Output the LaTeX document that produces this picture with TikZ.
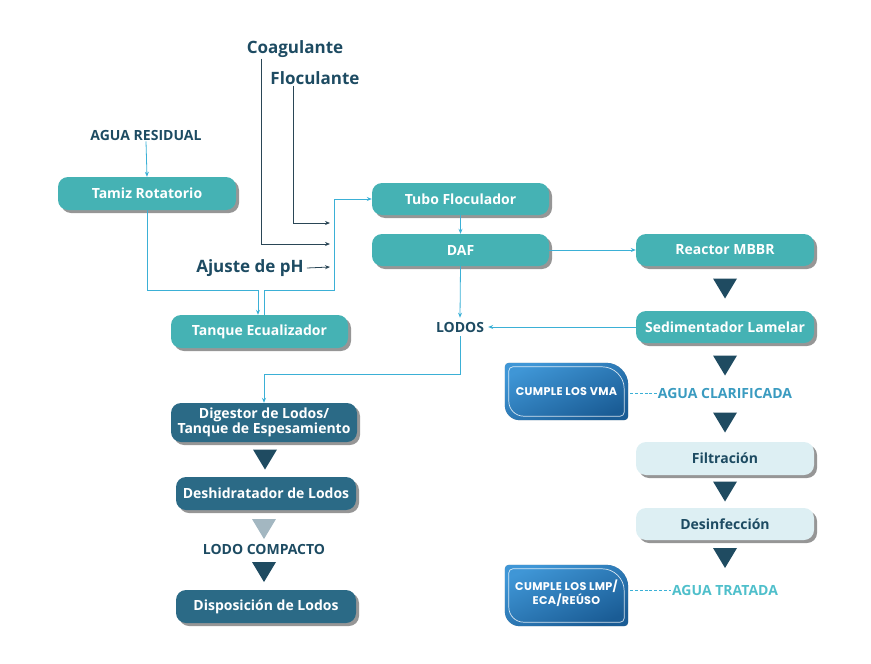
\documentclass[tikz,border=0pt]{standalone}
\usepackage{fontspec}
\setmainfont{Open Sans}
\newfontfamily\badgefont[LetterSpace=3]{Poppins}
\usetikzlibrary{calc,arrows.meta,shadows}
\definecolor{teal1}{HTML}{45B2B4}
\definecolor{darkbox}{HTML}{2B6A86}
\definecolor{darktxt}{HTML}{1D4B62}
\definecolor{tri}{HTML}{1F4B61}
\definecolor{trilight}{HTML}{A3B7C1}
\definecolor{cyanl}{HTML}{3BB0D6}
\definecolor{darkl}{HTML}{2A4656}
\definecolor{lightbox}{HTML}{DDEFF3}
\definecolor{clar}{HTML}{3A9BC0}
\definecolor{trat}{HTML}{4FBFCB}
\definecolor{bdark}{HTML}{1A5C95}
\definecolor{blight}{HTML}{3F96D6}
\newcommand\fs[1]{\fontsize{#1}{#1}\selectfont}
\newcommand\fss[2]{\fontsize{#1}{#2}\selectfont}
% badge outline: corners NW r=4, NE r=22, SE r=4, SW r=15; #2 = inset
\newcommand\badgeshape[2]{%
  ($(#1.north west)+(4+#2,#2)$) -- ($(#1.north east)+(-22-#2,#2)$)
  .. controls ($(#1.north east)+(-10-#2,#2)$) and ($(#1.north east)+(-#2,10+#2)$) .. ($(#1.north east)+(-#2,22+#2)$)
  -- ($(#1.south east)+(-#2,-4-#2)$)
  .. controls ($(#1.south east)+(-#2,-1.8-#2)$) and ($(#1.south east)+(-1.8-#2,-#2)$) .. ($(#1.south east)+(-4-#2,-#2)$)
  -- ($(#1.south west)+(15+#2,-#2)$)
  .. controls ($(#1.south west)+(6.7+#2,-#2)$) and ($(#1.south west)+(#2,-6.7-#2)$) .. ($(#1.south west)+(#2,-15-#2)$)
  -- ($(#1.north west)+(#2,4+#2)$)
  .. controls ($(#1.north west)+(#2,1.8+#2)$) and ($(#1.north west)+(1.8+#2,#2)$) .. ($(#1.north west)+(4+#2,#2)$) -- cycle}
\tikzset{
  x=1pt,y=-1pt,
  box/.style={rounded corners=10pt,minimum width=178pt,minimum height=33pt,inner sep=0pt,
    font=\bfseries\fs{14},text=white,fill=teal1,
    drop shadow={shadow xshift=3pt,shadow yshift=-3pt,opacity=0.55,fill=black!75}},
  dbox/.style={box,fill=darkbox},
  lbox/.style={box,fill=lightbox,text=darktxt},
  lbl/.style={font=\bfseries\fs{14},text=darktxt,inner sep=1pt},
  big/.style={font=\bfseries\fs{17},text=darktxt,inner sep=1pt},
  cl/.style={draw=cyanl,line width=0.8pt,-{Stealth[length=5pt,width=4pt]}},
  dl/.style={draw=darkl,line width=0.8pt,-{Stealth[length=5pt,width=4pt]}},
  dsh/.style={draw=cyanl,line width=0.7pt,dash pattern=on 3pt off 1.8pt},
  badge/.style={minimum width=123pt,inner sep=0pt,font=\badgefont\bfseries\fss{11.2}{12},text=white,align=center},
  tridark/.style={fill=tri},
  trilt/.style={fill=trilight}
}
\newcommand\downtri[2]{\fill[#1] ($#2+(-12,-10)$) -- ($#2+(12,-10)$) -- ($#2+(0,10)$) -- cycle;}
\begin{document}
\begin{tikzpicture}
\useasboundingbox (0,0) rectangle (871,664);
% text labels
\node[big] (coag) at (295,49) {Coagulante};
\node[big] (floc) at (315,78) {Floculante};
\node[lbl] (ar) at (146,135) {AGUA RESIDUAL};
\node[big] (ph) at (250,268) {Ajuste de pH};
\node[lbl] (lodos) at (460,327) {LODOS};
\node[lbl] (lc) at (264,549) {LODO COMPACTO};
% boxes
\node[box] (tamiz) at (147,193.5) {Tamiz Rotatorio};
\node[box,minimum width=177pt,minimum height=32pt] (tubo) at (460.5,199) {Tubo Floculador};
\node[box,minimum width=177pt,minimum height=32pt] (daf) at (460.5,250) {DAF};
\node[box,minimum height=32pt] (mbbr) at (725,250) {Reactor MBBR};
\node[box,minimum width=177pt] (tanque) at (259.5,331.5) {Tanque Ecualizador};
\node[box,minimum height=32pt] (sed) at (725,327) {Sedimentador Lamelar};
\node[dbox,minimum width=186pt,minimum height=39pt,align=center,font=\bfseries\fss{14}{14.5}] (dig) at (264,422.5) {Digestor de Lodos/\\Tanque de Espesamiento};
\node[dbox,minimum width=180pt] (desh) at (266,493.5) {Deshidratador de Lodos};
\node[dbox,minimum width=180pt] (disp) at (266,606.5) {Disposición de Lodos};
\node[lbox] (filt) at (725,458.5) {Filtración};
\node[lbox,minimum height=32pt] (desi) at (725,524) {Desinfección};
% water labels
\node[font=\bfseries\fs{14},text=clar,inner sep=1pt] (agcl) at (725,393) {AGUA CLARIFICADA};
\node[font=\bfseries\fs{14},text=trat,inner sep=1pt] (agtr) at (725,590) {AGUA TRATADA};
% badges
\node[badge,minimum height=57pt] (b1) at (566.5,391.5) {};
\node[badge,minimum height=61pt] (b2) at (566.5,595.5) {};
\foreach \b in {b1,b2}{
  \fill[black,opacity=0.35,shift={(3,3.5)}] \badgeshape{\b}{0};
  \shade[bottom color=bdark,top color=blight,shading angle=25] \badgeshape{\b}{0};
  \draw[white,opacity=0.8,line width=0.7pt] \badgeshape{\b}{4};
}
\node[badge] (t1) at (b1) {CUMPLE LOS VMA};
\node[badge] (t2) at ($(b2)+(0,-2.5)$) {CUMPLE LOS LMP/\\ECA/REÚSO};
% coordinates
\coordinate (j1) at (258,290);
\coordinate (j2) at (334,290);
\coordinate (c3) at (330,244);
\coordinate (c4) at (330,223);
\coordinate (c5) at (330,267);
\coordinate (c6) at (264,374);
% connectors
\draw[cl] (ar.south) -- (tamiz.north);
\draw[cl] (tamiz.south) |- (j1) -- ([xshift=-1.5pt]tanque.north);
\draw[cl] ([xshift=4.5pt]tanque.north) |- (j2) |- (tubo.west);
\draw[dl] ([xshift=16pt]coag.south west) |- (c3);
\draw[dl] ([xshift=24pt]floc.south west) |- (c4);
\draw[dl] ([xshift=2pt]ph.east) -- (c5);
\draw[cl] (tubo.south) -- (daf.north);
\draw[cl] (daf.east) -- (mbbr.west);
\draw[cl] (daf.south) -- ([yshift=3pt]lodos.north);
\draw[cl] (sed.west) -- ([xshift=3pt]lodos.east);
\draw[cl] ([yshift=-3pt]lodos.south) |- (c6) -- (dig.north);
\draw[dsh] ([xshift=2pt]b1.east |- agcl.west) -- (agcl.west);
\draw[dsh] ([xshift=2pt]b2.east |- agtr.west) -- (agtr.west);
% triangles
\downtri{tridark}{($(mbbr.south)!0.5!(sed.north)$)}
\downtri{tridark}{(725,365.5)}
\downtri{tridark}{(725,422.5)}
\downtri{tridark}{($(filt.south)!0.5!(desi.north)$)}
\downtri{tridark}{(725,558)}
\downtri{tridark}{($(dig.south)!0.5!(desh.north)$)}
\downtri{trilt}{(264,529)}
\downtri{tridark}{(264,572)}
\end{tikzpicture}
\end{document}
